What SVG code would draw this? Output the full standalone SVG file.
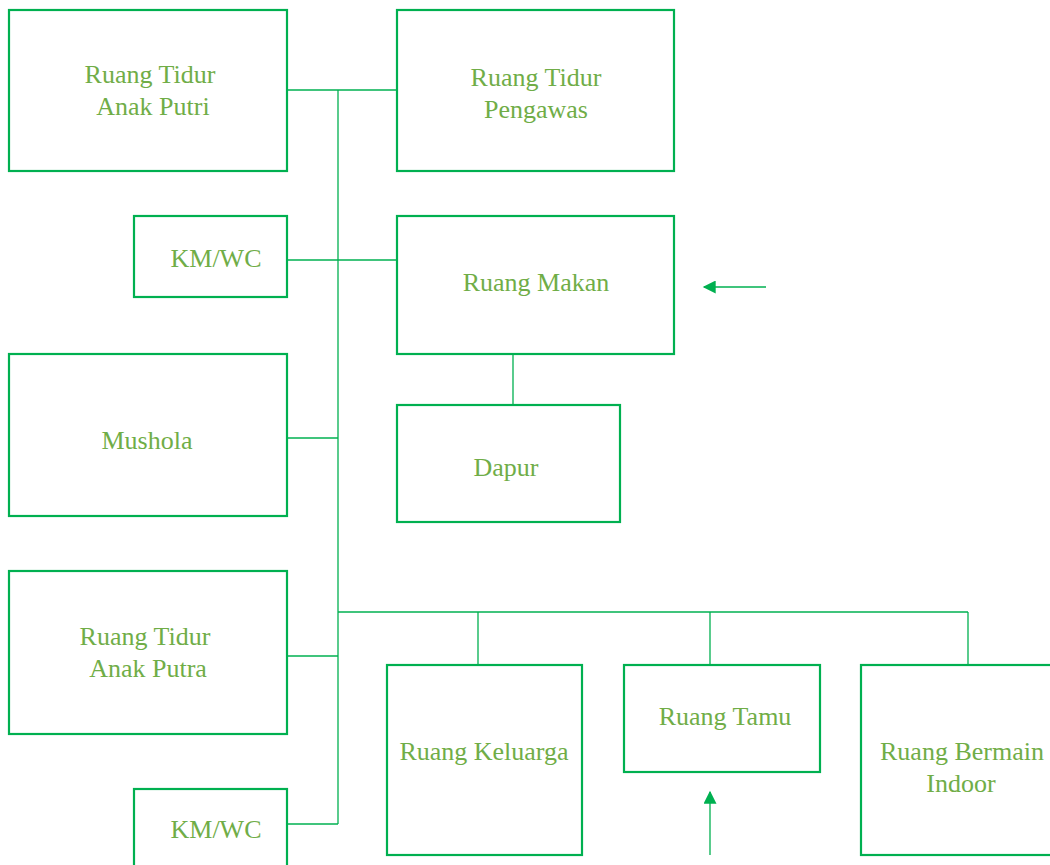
<svg xmlns="http://www.w3.org/2000/svg" width="1050" height="865" viewBox="0 0 1050 865" font-family="Liberation Serif, DejaVu Serif, serif">
  <style>
    .box { fill: #ffffff; stroke: #00b050; stroke-width: 2.2; }
    .link { fill: none; stroke: #00b050; stroke-width: 1.3; }
    .arrow { fill: none; stroke: #00b050; stroke-width: 1.3; marker-end: url(#head); }
    .label { font-size: 26px; fill: #70ad47; text-anchor: middle; }
  </style>
  <defs>
    <marker id="head" viewBox="0 0 10 10" refX="9" refY="5" markerWidth="14" markerHeight="13" markerUnits="userSpaceOnUse" orient="auto">
      <path d="M0,0 L10,5 L0,10 Z" fill="#00b050"/>
    </marker>
  </defs>
  <rect width="1050" height="865" fill="#ffffff"/>

  <g id="connectors">
    <line class="link" x1="287" y1="90" x2="397" y2="90"/>
    <line class="link" x1="338" y1="90" x2="338" y2="824"/>
    <line class="link" x1="287" y1="260" x2="397" y2="260"/>
    <line class="link" x1="287" y1="438" x2="338" y2="438"/>
    <line class="link" x1="287" y1="656" x2="338" y2="656"/>
    <line class="link" x1="287" y1="824" x2="338" y2="824"/>
    <line class="link" x1="513" y1="354" x2="513" y2="405"/>
    <line class="link" x1="338" y1="612" x2="968" y2="612"/>
    <line class="link" x1="478" y1="612" x2="478" y2="665"/>
    <line class="link" x1="710" y1="612" x2="710" y2="665"/>
    <line class="link" x1="968" y1="612" x2="968" y2="665"/>
    <line class="arrow" x1="766" y1="287" x2="704" y2="287"/>
    <line class="arrow" x1="710" y1="855" x2="710" y2="792"/>
  </g>

  <g id="tidur-putri">
    <rect class="box" x="9" y="10" width="278" height="161"/>
    <text class="label" x="150" y="83">Ruang Tidur</text>
    <text class="label" x="153" y="115">Anak Putri</text>
  </g>
  <g id="tidur-pengawas">
    <rect class="box" x="397" y="10" width="277" height="161"/>
    <text class="label" x="536" y="86">Ruang Tidur</text>
    <text class="label" x="536" y="118">Pengawas</text>
  </g>
  <g id="kmwc-atas">
    <rect class="box" x="134" y="216" width="153" height="81"/>
    <text class="label" x="216" y="267">KM/WC</text>
  </g>
  <g id="ruang-makan">
    <rect class="box" x="397" y="216" width="277" height="138"/>
    <text class="label" x="536" y="291">Ruang Makan</text>
  </g>
  <g id="mushola">
    <rect class="box" x="9" y="354" width="278" height="162"/>
    <text class="label" x="147" y="449">Mushola</text>
  </g>
  <g id="dapur">
    <rect class="box" x="397" y="405" width="223" height="117"/>
    <text class="label" x="506" y="476">Dapur</text>
  </g>
  <g id="tidur-putra">
    <rect class="box" x="9" y="571" width="278" height="163"/>
    <text class="label" x="145" y="645">Ruang Tidur</text>
    <text class="label" x="148" y="677">Anak Putra</text>
  </g>
  <g id="kmwc-bawah">
    <rect class="box" x="134" y="789" width="153" height="90"/>
    <text class="label" x="216" y="838">KM/WC</text>
  </g>
  <g id="ruang-keluarga">
    <rect class="box" x="387" y="665" width="195" height="190"/>
    <text class="label" x="484" y="760">Ruang Keluarga</text>
  </g>
  <g id="ruang-tamu">
    <rect class="box" x="624" y="665" width="196" height="107"/>
    <text class="label" x="725" y="725">Ruang Tamu</text>
  </g>
  <g id="ruang-bermain">
    <rect class="box" x="861" y="665" width="200" height="190"/>
    <text class="label" x="962" y="760">Ruang Bermain</text>
    <text class="label" x="961" y="792">Indoor</text>
  </g>
</svg>
